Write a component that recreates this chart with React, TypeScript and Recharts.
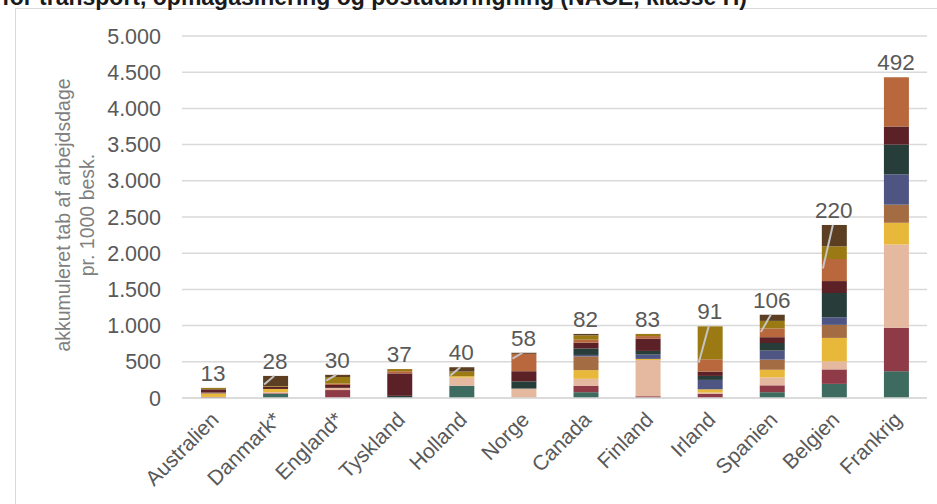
import React from 'react';
import { BarChart, Bar, XAxis, YAxis, CartesianGrid, ReferenceLine } from 'recharts';

const countries = [
  'Australien', 'Danmark*', 'England*', 'Tyskland', 'Holland', 'Norge',
  'Canada', 'Finland', 'Irland', 'Spanien', 'Belgien', 'Frankrig',
];

// Stack segments, bottom to top, one value per country
const p1 = [0, 55, 0, 0, 170, 0, 80, 0, 0, 80, 195, 370];
const p2 = [15, 10, 110, 0, 0, 0, 90, 25, 60, 95, 200, 600];
const p3 = [0, 15, 30, 0, 110, 130, 95, 500, 15, 110, 110, 1150];
const p4 = [45, 45, 0, 0, 20, 0, 120, 15, 45, 105, 325, 300];
const p5 = [15, 0, 0, 0, 0, 0, 190, 0, 0, 140, 180, 250];
const p6 = [0, 0, 0, 0, 0, 0, 20, 60, 130, 125, 105, 420];
const p7 = [0, 0, 0, 30, 0, 100, 90, 50, 55, 105, 335, 410];
const p8 = [45, 30, 40, 310, 0, 140, 80, 170, 60, 80, 165, 250];
const p9 = [0, 0, 20, 30, 0, 240, 40, 35, 170, 120, 305, 680];
const p10 = [20, 10, 90, 30, 65, 0, 60, 30, 455, 105, 175, 0];
const p11 = [0, 140, 30, 0, 60, 15, 20, 0, 0, 85, 295, 0];

// Value printed above each stack
const avgDays = [13, 28, 30, 37, 40, 58, 82, 83, 91, 106, 220, 492];
// Where the callout leader ends inside the bar (null = no leader)
const leaderTo: (number | null)[] = [null, 186, 240, null, 310, 545, null, null, 486, 910, 1790, null];

const yTicks = [0, 500, 1000, 1500, 2000, 2500, 3000, 3500, 4000, 4500, 5000];

const segments = [p1, p2, p3, p4, p5, p6, p7, p8, p9, p10, p11];
const colors = [
  '#3e6b5f', '#8e3b47', '#e5b9a0', '#e8b83a', '#a46c42', '#4f5582',
  '#263d39', '#5b2126', '#b8683c', '#9b7a14', '#5c3f22',
];

const rows = countries.map((country, i) => {
  const row: Record<string, string | number> = { country };
  segments.forEach((s, k) => {
    row[`p${k + 1}`] = s[i];
  });
  return row;
});
const totals = countries.map((_, i) => segments.reduce((acc, s) => acc + s[i], 0));

const FONT = '"Liberation Sans", Arial, sans-serif';

const fmt = (v: number) => v.toLocaleString('de-DE');

const XTick = (props: any) => {
  const { x, y, payload } = props;
  const tx = x + 7;
  const ty = y + 23;
  return (
    <text
      x={tx}
      y={ty}
      transform={`rotate(-45 ${tx} ${ty})`}
      textAnchor="end"
      fontSize={21}
      fontFamily={FONT}
      fill="#595959"
    >
      {payload.value}
    </text>
  );
};

const YTitle = (props: any) => {
  const vb = props.viewBox || { x: 0, y: 36, width: 182, height: 362 };
  const cy = vb.y + vb.height / 2 - 2;
  const l1x = vb.x + 63;
  const l2x = vb.x + 87;
  return (
    <g fontFamily={FONT} fontSize={19.5} fill="#7f7f7f">
      <text x={l1x} y={cy} transform={`rotate(-90 ${l1x} ${cy})`} textAnchor="middle" dominantBaseline="central">
        akkumuleret tab af arbejdsdage
      </text>
      <text x={l2x} y={cy} transform={`rotate(-90 ${l2x} ${cy})`} textAnchor="middle" dominantBaseline="central">
        pr. 1000 besk.
      </text>
    </g>
  );
};

const Callout = (props: any) => {
  const { x1, y1, x2, y2, text, leader } = props;
  return (
    <g>
      {leader ? (
        <line x1={x1 - 1} y1={y1} x2={x2 - 11} y2={y2} stroke="#c4c4c4" strokeWidth={2} />
      ) : null}
      <text x={x1} y={y1 - 7} textAnchor="middle" fontSize={22.5} fontFamily={FONT} fill="#595959">
        {text}
      </text>
    </g>
  );
};

export default function App() {
  return (
    <div style={{ position: 'absolute', left: 0, top: 0, width: 937, height: 504, overflow: 'hidden', background: '#fff' }}>
      <div
        style={{
          position: 'absolute',
          left: 15,
          top: 8,
          width: 960,
          height: 560,
          border: '1.5px solid #d9d9d9',
        }}
      />
      <svg width={937} height={20} style={{ position: 'absolute', left: 0, top: 0 }}>
        <text x={2} y={5} fontFamily={FONT} fontWeight="bold" fontSize={23} fill="#1a1a1a">
          for transport, opmagasinering og postudbringning (NACE, klasse H)
        </text>
      </svg>
      <div style={{ position: 'absolute', left: 0, top: 0 }}>
        <BarChart
          width={937}
          height={504}
          data={rows}
          margin={{ top: 36, right: 10, bottom: 0, left: 0 }}
          barSize={25}
        >
          <CartesianGrid vertical={false} stroke="#d9d9d9" strokeWidth={1.5} />
          <XAxis
            dataKey="country"
            height={106}
            interval={0}
            tickLine={false}
            tickSize={0}
            tickMargin={0}
            axisLine={{ stroke: '#d9d9d9', strokeWidth: 1.5 }}
            tick={<XTick />}
          />
          <YAxis
            width={182}
            domain={[0, 5000]}
            ticks={yTicks}
            interval={0}
            axisLine={false}
            tickLine={false}
            tickSize={0}
            tickMargin={21}
            tickFormatter={fmt}
            tick={{ fontSize: 21.5, fontFamily: FONT, fill: '#595959' }}
            label={{ content: <YTitle /> }}
          />
          {segments.map((_, k) => (
            <Bar
              key={k}
              dataKey={`p${k + 1}`}
              stackId="a"
              fill={colors[k]}
              isAnimationActive={false}
            />
          ))}
          {countries.map((c, i) => (
            <ReferenceLine
              key={c}
              ifOverflow="visible"
              segment={[
                { x: c, y: totals[i] },
                { x: c, y: leaderTo[i] ?? totals[i] },
              ]}
              shape={(p: any) => (
                <Callout {...p} text={String(avgDays[i])} leader={leaderTo[i] !== null} />
              )}
            />
          ))}
        </BarChart>
      </div>
    </div>
  );
}
